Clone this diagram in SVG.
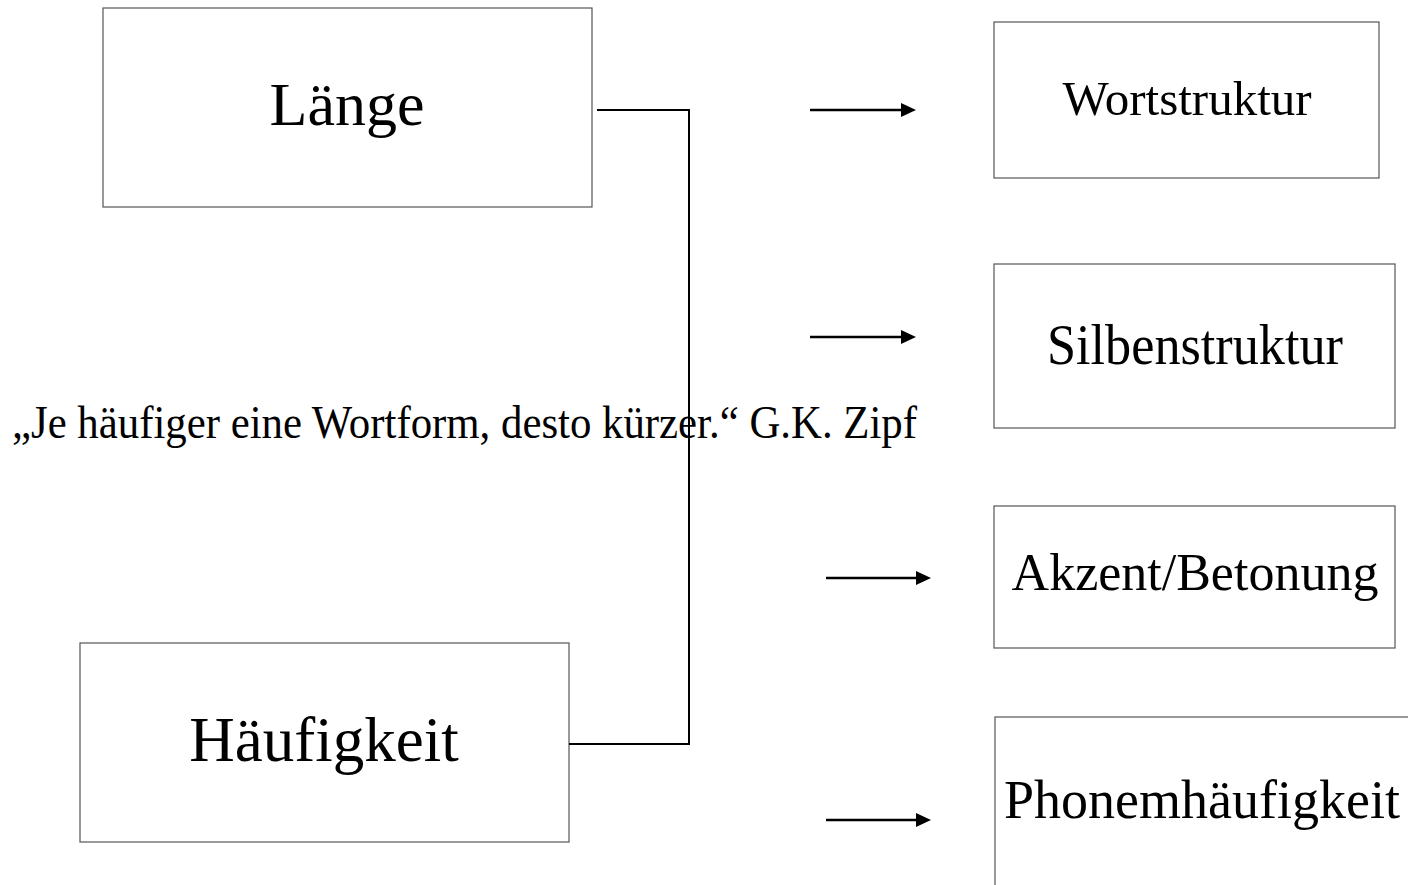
<svg xmlns="http://www.w3.org/2000/svg" width="1408" height="885" viewBox="0 0 1408 885">
  <defs>
    <!-- arrowhead, tip at the origin, pointing right -->
    <path id="head" d="M0,0 L-15,-7 L-15,7 Z" fill="#000"/>
  </defs>
  <style>
    .box { fill: #fff; stroke: #555; stroke-width: 1.2; }
    .label { font-family: "Liberation Serif", "Times New Roman", serif; fill: #000; text-anchor: middle; }
    .link { fill: none; stroke: #000; stroke-width: 2; }
    .shaft { stroke: #000; stroke-width: 2.5; }
  </style>
  <rect width="1408" height="885" fill="#fff"/>

  <g id="node-laenge">
    <rect class="box" x="103" y="8" width="489" height="199"/>
    <text class="label" x="347" y="125" font-size="62">Länge</text>
  </g>

  <g id="node-haeufigkeit">
    <rect class="box" x="80" y="643" width="489" height="199"/>
    <text class="label" x="324" y="761" font-size="63">Häufigkeit</text>
  </g>

  <g id="node-wortstruktur">
    <rect class="box" x="994" y="22" width="385" height="156"/>
    <text class="label" x="1187" y="115" font-size="49">Wortstruktur</text>
  </g>

  <g id="node-silbenstruktur">
    <rect class="box" x="994" y="264" width="401" height="164"/>
    <text class="label" x="1195" y="364" font-size="56" textLength="296" lengthAdjust="spacingAndGlyphs">Silbenstruktur</text>
  </g>

  <g id="node-akzent">
    <rect class="box" x="994" y="506" width="401" height="142"/>
    <text class="label" x="1195" y="590" font-size="52">Akzent/Betonung</text>
  </g>

  <g id="node-phonem">
    <rect class="box" x="995" y="717" width="430" height="200"/>
    <text class="label" x="1202" y="818" font-size="54">Phonemhäufigkeit</text>
  </g>

  <g id="quote">
    <text x="12" y="438" font-family="Liberation Serif, Times New Roman, serif" font-size="47" textLength="905" lengthAdjust="spacingAndGlyphs">„Je häufiger eine Wortform, desto kürzer.“ G.K. Zipf</text>
  </g>

  <g id="connectors">
    <polyline class="link" points="597,110 689,110 689,744 569,744"/>
    <line class="shaft" x1="810" y1="110" x2="903" y2="110"/>
    <use href="#head" x="916" y="110"/>
    <line class="shaft" x1="810" y1="337" x2="903" y2="337"/>
    <use href="#head" x="916" y="337"/>
    <line class="shaft" x1="826" y1="578" x2="918" y2="578"/>
    <use href="#head" x="931" y="578"/>
    <line class="shaft" x1="826" y1="820" x2="918" y2="820"/>
    <use href="#head" x="931" y="820"/>
  </g>
</svg>
